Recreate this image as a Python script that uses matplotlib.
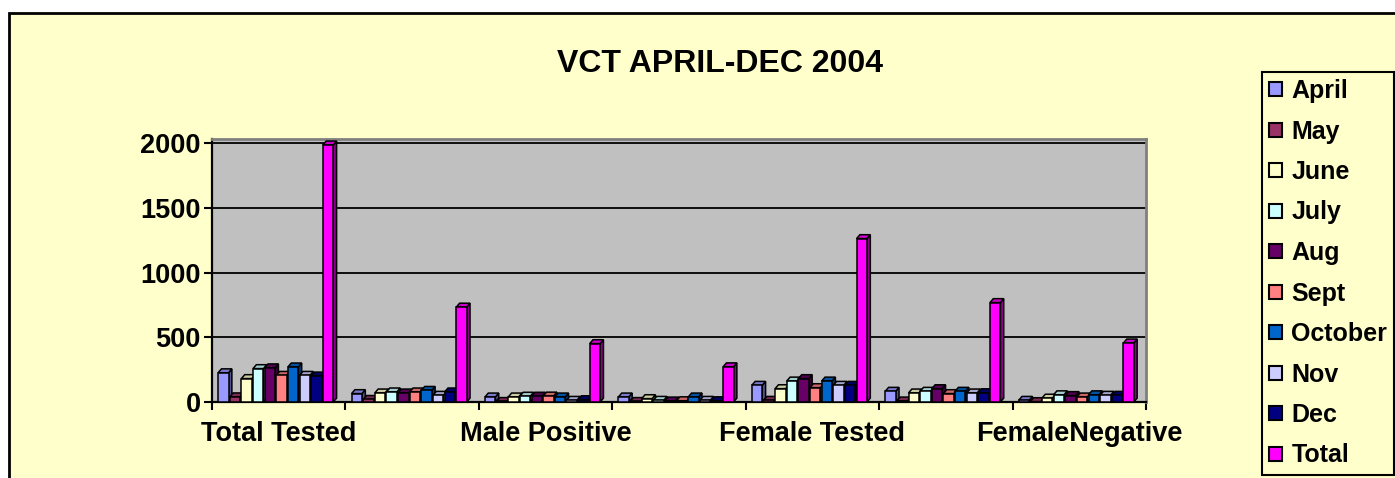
"""VCT April-Dec 2004 clustered column chart (Excel style, pseudo 3D)."""

import matplotlib
matplotlib.use("Agg")
import matplotlib.pyplot as plt
from matplotlib.patches import Patch, Rectangle
from matplotlib.colors import to_rgb

plt.rcParams["font.family"] = ["Liberation Sans", "DejaVu Sans"]
plt.rcParams["font.weight"] = "bold"

# Section: chart data.
categories = ["Total Tested", "Male Tested", "Male Positive", "Male Negative",
              "Female Tested", "Female Positive", "FemaleNegative"]
months = ["April", "May", "June", "July", "Aug", "Sept", "October", "Nov", "Dec", "Total"]

april = [226, 65, 39, 39, 129, 83, 13]
may = [40, 20, 4, 4, 13, 8, 3]
june = [181, 70, 39, 26, 103, 70, 30]
july = [258, 78, 45, 13, 162, 83, 56]
aug = [264, 70, 45, 8, 181, 103, 50]
sept = [206, 78, 46, 10, 111, 65, 39]
october = [271, 90, 39, 39, 162, 83, 56]
nov = [206, 52, 13, 13, 129, 70, 52]
dec = [201, 78, 18, 10, 129, 72, 52]
total = [1985, 733, 451, 272, 1262, 768, 456]

series = [april, may, june, july, aug, sept, october, nov, dec, total]
colors = ["#9999FF", "#993366", "#FFFFCC", "#CCFFFF", "#660066",
          "#FF8080", "#0066CC", "#CCCCFF", "#000080", "#FF00FF"]

yticks = [0, 500, 1000, 1500, 2000]
title = "VCT APRIL-DEC 2004"

W, H = 1395, 478


def shade(color, factor):
    r, g, b = to_rgb(color)
    return (r * factor, g * factor, b * factor)


def draw_bar3d(ax, left, width, height, color, z):
    dx = 0.025   # depth shift in x data units
    dy = 30.0    # depth shift in y data units
    right = left + width
    ax.fill([right, right + dx, right + dx, right], [0, dy, height + dy, height],
            facecolor=shade(color, 0.55), edgecolor="black", linewidth=1.1, zorder=z)
    ax.fill([left, left + dx, right + dx, right], [height, height + dy, height + dy, height],
            facecolor=shade(color, 0.8), edgecolor="black", linewidth=1.1, zorder=z)
    ax.bar(left, height, width=width, align="edge", color=color,
           edgecolor="black", linewidth=1.1, zorder=z + 0.5)


fig = plt.figure(figsize=(W / 100, H / 100), dpi=100)
fig.patch.set_facecolor("white")
fig.patches.append(Rectangle((9 / W, -0.1), 1.2, 1.1 - 13 / H, transform=fig.transFigure,
                             facecolor="#FFFFCC", edgecolor="black", linewidth=2, zorder=-10))

ax = fig.add_axes([212 / W, 1 - 402 / H, (1146 - 212) / W, (402 - 139) / H])
ax.set_facecolor("#C0C0C0")

step = 0.0872
bar_w = 0.078
z = 3
for i in range(len(categories)):
    for j, (vals, col) in enumerate(zip(series, colors)):
        left = i - 0.415 + j * step - bar_w / 2
        draw_bar3d(ax, left, bar_w, vals[i], col, z)
        z += 1

ax.set_xlim(-0.5, len(categories) - 0.5)
ax.set_ylim(0, 2031)
ax.set_yticks(yticks)
ax.set_yticklabels([str(v) for v in yticks], fontsize=19.5, fontweight="bold")
ax.yaxis.grid(True, color="black", linewidth=1.3)
ax.set_axisbelow(True)

ax.set_xticks(range(len(categories)))
ax.set_xticklabels([c if k % 2 == 0 else "" for k, c in enumerate(categories)],
                   fontsize=19.5, fontweight="bold")
ax.set_xticks([k - 0.5 for k in range(len(categories) + 1)], minor=True)
ax.tick_params(axis="x", which="major", length=0, pad=14)
ax.tick_params(axis="x", which="minor", length=6, width=1.5, direction="out")
ax.tick_params(axis="y", length=6, width=1.5, pad=2)

for side in ("left", "bottom"):
    ax.spines[side].set_color("black")
    ax.spines[side].set_linewidth(1.6)
for side in ("top", "right"):
    ax.spines[side].set_color("#808080")
    ax.spines[side].set_linewidth(2)

fig.text(720 / W, 1 - 64 / H, title, ha="center", va="center", fontsize=23, fontweight="bold")

handles = [Patch(facecolor=c, edgecolor="black", linewidth=1.5, label=m) for m, c in zip(months, colors)]
leg = fig.legend(handles=handles, loc="upper left", bbox_to_anchor=(1262 / W, 1 - 72 / H),
                 fontsize=18, frameon=True, fancybox=False, facecolor="#FFFFCC", edgecolor="black",
                 framealpha=1, handlelength=0.5, handleheight=0.5, handletextpad=0.4,
                 labelspacing=0.66, borderpad=0.28, borderaxespad=0)
leg.get_frame().set_linewidth(1.5)
for t in leg.get_texts():
    t.set_fontweight("bold")

fig.savefig("out.png", dpi=100)
